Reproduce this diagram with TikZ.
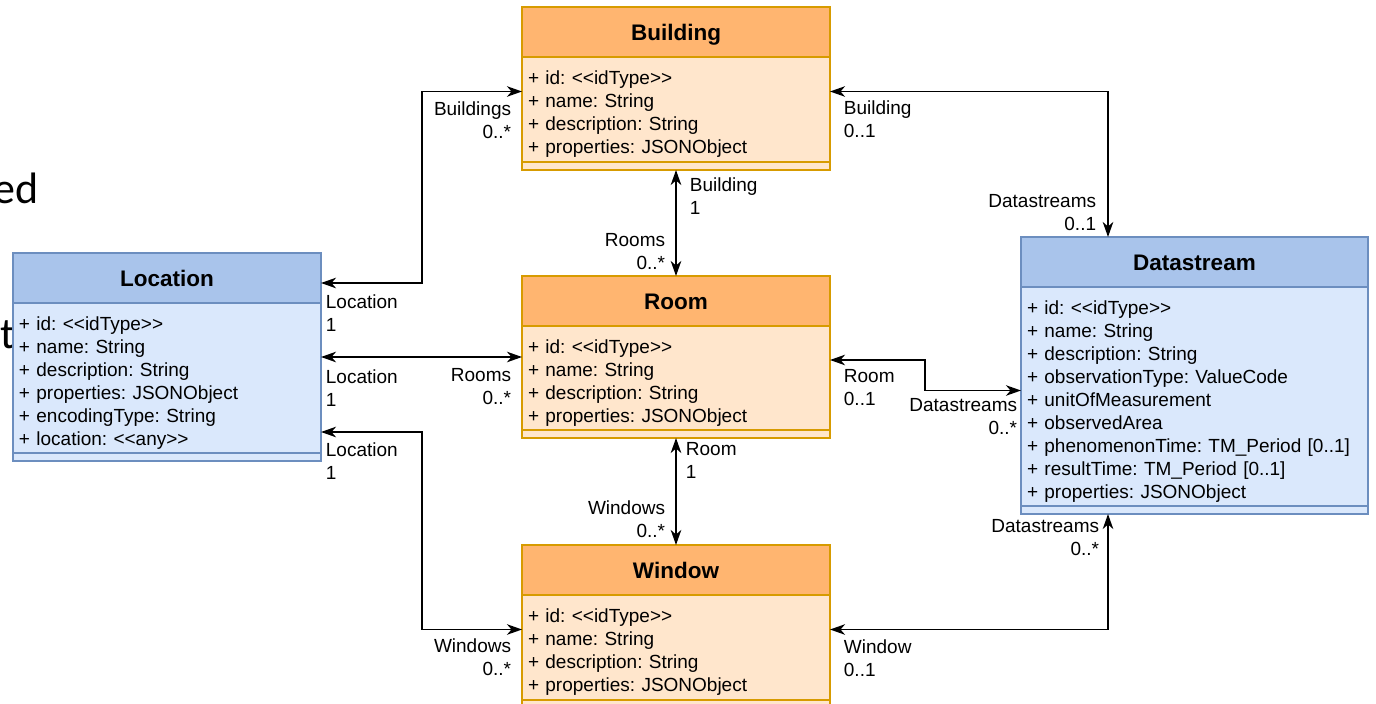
\documentclass[tikz,border=0pt]{standalone}
\usepackage{fontspec}
\setmainfont{Liberation Sans}
\newfontfamily\slidefont{Carlito}
\usetikzlibrary{positioning,fit,arrows.meta}
\frenchspacing

\tikzset{
  x=1pt, y=-1pt,
  umlbox/.style={draw, line width=1.4pt, outer sep=0pt, inner xsep=6pt, inner ysep=0pt},
  extcls/.style={umlbox, draw=extline},
  stacls/.style={umlbox, draw=staline},
  headbox/.style={minimum height=50pt, text width=#1, align=center, text height=18pt, text depth=2pt,
    font=\fontsize{22.5}{27}\selectfont\bfseries},
  attrbox/.style={text width=#1, align=left, font=\fontsize{19}{23}\selectfont,
    execute at begin node=\rule{0pt}{23pt}},
  footbox/.style={minimum height=8pt, text width=#1},
  assoc/.style={<->, >={Stealth[length=15pt,width=10.5pt,inset=4.5pt]}, line width=1.8pt},
  lbl/.style={inner sep=0pt, font=\fontsize{19}{23}\selectfont},
  lblr/.style={lbl, anchor=north east, align=right},
  lbll/.style={lbl, anchor=north west, align=left},
}

\begin{document}
\begin{tikzpicture}
\definecolor{extline}{HTML}{D79B00}
\definecolor{exthead}{HTML}{FFB570}
\definecolor{extbody}{HTML}{FFE6CC}
\definecolor{staline}{HTML}{6C8EBF}
\definecolor{stahead}{HTML}{A9C4EB}
\definecolor{stabody}{HTML}{DAE8FC}
\useasboundingbox (0,0) rectangle (1376,704);

% slide text behind the diagram
\node[font=\slidefont\fontsize{44}{50}\selectfont, anchor=base east, inner sep=0pt] (frag-ed) at (39,203) {ed};
\node[font=\slidefont\fontsize{44}{50}\selectfont, anchor=base east, inner sep=0pt] (frag-t) at (15,348) {t};

% Building
\node[extcls, fill=exthead, headbox=296pt, anchor=north west] (bld-h) at (522,7) {Building};
\node[extcls, fill=extbody, attrbox=296pt, minimum height=105pt, below=0pt of bld-h] (bld-a)
  {+ id: <{}<idType>{}>\\+ name: String\\+ description: String\\+ properties: JSONObject};
\node[extcls, fill=extbody, footbox=296pt, below=0pt of bld-a] (bld-f) {};
\node[fit=(bld-h)(bld-f), inner sep=0pt, outer sep=0pt] (bld) {};

% Room
\node[extcls, fill=exthead, headbox=296pt, anchor=north west] (room-h) at (522,276) {Room};
\node[extcls, fill=extbody, attrbox=296pt, minimum height=104pt, below=0pt of room-h] (room-a)
  {+ id: <{}<idType>{}>\\+ name: String\\+ description: String\\+ properties: JSONObject};
\node[extcls, fill=extbody, footbox=296pt, below=0pt of room-a] (room-f) {};
\node[fit=(room-h)(room-f), inner sep=0pt, outer sep=0pt] (room) {};

% Window
\node[extcls, fill=exthead, headbox=296pt, anchor=north west] (win-h) at (522,545) {Window};
\node[extcls, fill=extbody, attrbox=296pt, minimum height=105pt, below=0pt of win-h] (win-a)
  {+ id: <{}<idType>{}>\\+ name: String\\+ description: String\\+ properties: JSONObject};
\node[extcls, fill=extbody, footbox=296pt, below=0pt of win-a] (win-f) {};
\node[fit=(win-h)(win-f), inner sep=0pt, outer sep=0pt] (win) {};

% Location
\node[stacls, fill=stahead, headbox=296pt, anchor=north west] (loc-h) at (13,253) {Location};
\node[stacls, fill=stabody, attrbox=296pt, minimum height=150pt, below=0pt of loc-h] (loc-a)
  {+ id: <{}<idType>{}>\\+ name: String\\+ description: String\\+ properties: JSONObject\\
   + encodingType: String\\+ location: <{}<any>{}>};
\node[stacls, fill=stabody, footbox=296pt, below=0pt of loc-a] (loc-f) {};
\node[fit=(loc-h)(loc-f), inner sep=0pt, outer sep=0pt] (loc) {};

% Datastream
\node[stacls, fill=stahead, headbox=335pt, anchor=north west] (ds-h) at (1021,237) {Datastream};
\node[stacls, fill=stabody, attrbox=335pt, minimum height=219pt, below=0pt of ds-h] (ds-a)
  {+ id: <{}<idType>{}>\\+ name: String\\+ description: String\\+ observationType: ValueCode\\
   + unitOfMeasurement\\+ observedArea\\+ phenomenonTime: TM\_Period [0..1]\\
   + resultTime: TM\_Period [0..1]\\+ properties: JSONObject};
\node[stacls, fill=stabody, footbox=335pt, below=0pt of ds-a] (ds-f) {};
\node[fit=(ds-h)(ds-f), inner sep=0pt, outer sep=0pt] (ds) {};

% associations of Location
\draw[assoc] ([yshift=-30pt]loc.north east) node[lbll, xshift=4pt, yshift=-11pt] {Location\\1}
  -- ++(101,0) |- ([yshift=-3pt]bld.west) node[lblr, xshift=-10pt, yshift=-9pt] {Buildings\\0..*};
\draw[assoc] (loc.east |- room.west) node[lbll, xshift=4pt, yshift=-12pt] {Location\\1}
  -- (room.west) node[lblr, xshift=-10pt, yshift=-11pt] {Rooms\\0..*};
\draw[assoc] ([yshift=29pt]loc.south east) node[lbll, xshift=4pt, yshift=-10pt] {Location\\1}
  -- ++(101,0) |- ([yshift=-3pt]win.west) node[lblr, xshift=-10pt, yshift=-8pt] {Windows\\0..*};

% Building -- Room -- Window
\draw[assoc] (bld.south) node[lbll, xshift=13pt, yshift=-7pt] {Building\\1}
  -- (room.north) node[lblr, xshift=-10pt, yshift=43pt] {Rooms\\0..*};
\draw[assoc] (room.south) node[lbll, xshift=9pt, yshift=-4pt] {Room\\1}
  -- (win.north) node[lblr, xshift=-10pt, yshift=45pt] {Windows\\0..*};

% associations of Datastream
\draw[assoc] ([yshift=-3pt]bld.east) node[lbll, xshift=13pt, yshift=-8.5pt] {Building\\0..1}
  -| ([xshift=87pt]ds.north west) node[lblr, xshift=-11pt, yshift=43pt] {Datastreams\\0..1};
\draw[assoc] ([yshift=-3pt]room.east) node[lbll, xshift=13pt, yshift=-9pt] {Room\\0..1}
  -- ++(95,0) |- ([yshift=-15pt]ds.west) node[lblr, xshift=-3pt, yshift=-7pt] {Datastreams\\0..*};
\draw[assoc] ([yshift=-3pt]win.east) node[lbll, xshift=13pt, yshift=-9pt] {Window\\0..1}
  -| ([xshift=87pt]ds.south west) node[lblr, xshift=-8pt, yshift=-5pt] {Datastreams\\0..*};
\end{tikzpicture}
\end{document}
